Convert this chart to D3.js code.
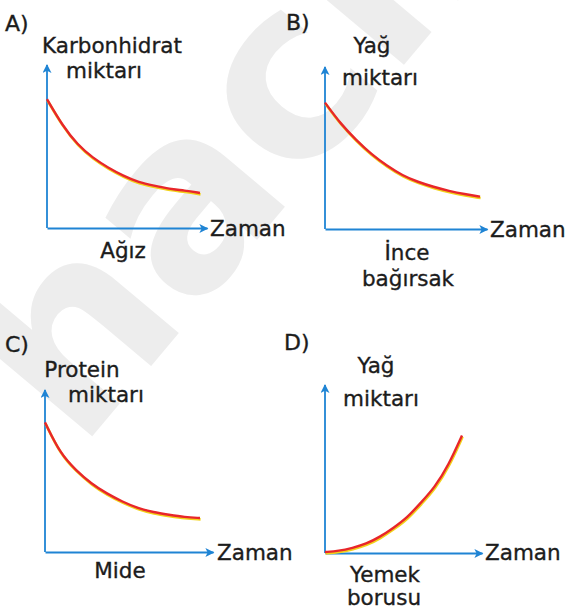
<!DOCTYPE html>
<html>
<head>
<meta charset="utf-8">
<script src="https://cdn.jsdelivr.net/npm/d3@7"></script>
<style>
  body { margin: 0; background: #fff; }
  text.lbl { font-family: "DejaVu Sans", sans-serif; fill: #1c1c1c; stroke: #1c1c1c; stroke-width: 0.35px; }
</style>
</head>
<body>
<div class="content"></div>
<script>
// zaman (same steps for every graph)
var zaman = [0, 1, 2, 3, 4, 5, 6, 7, 8, 9, 10];

// amount in % of the y arrow height
var karbonhidratAgiz = [79, 63, 51, 43, 37, 32, 28, 26, 24, 23, 21.5];
var yagInceBagirsak = [78, 65, 55, 46, 39, 33, 29, 26, 23.5, 21.5, 20];
var proteinMide = [80, 60.5, 50.5, 42, 36, 31, 27, 24.5, 23, 21.5, 21];
var yagYemekBorusu = [0.6, 1.2, 3, 5.4, 9.5, 15, 21, 30, 39, 52, 70];

var harfler = ["A)", "B)", "C)", "D)"];
var yEtiketleri = [["Karbonhidrat", "miktarı"], ["Yağ", "miktarı"], ["Protein", "miktarı"], ["Yağ", "miktarı"]];
var organlar = [["Ağız"], ["İnce", "bağırsak"], ["Mide"], ["Yemek", "borusu"]];
var xEtiketi = "Zaman";

var seriler = [karbonhidratAgiz, yagInceBagirsak, proteinMide, yagYemekBorusu];

// where each small graph sits
var panels = [
  { ox: 47, oy: 228, top: 65, right: 207, xMax: 10.46,
    harf: [5, 31], yLab: [[112, 53], [104, 78]], org: [[123, 258]], zaman: [210, 236] },
  { ox: 325, oy: 229, top: 67, right: 487, xMax: 10.45,
    harf: [286, 30], yLab: [[372, 53], [380, 85]], org: [[407, 260], [408, 286]], zaman: [490, 237] },
  { ox: 45, oy: 552, top: 390, right: 213, xMax: 10.84,
    harf: [5, 352], yLab: [[82, 377], [106, 402]], org: [[120, 578]], zaman: [217, 560] },
  { ox: 325, oy: 553, top: 385, right: 482, xMax: 11.46,
    harf: [284, 350], yLab: [[376, 373], [381, 406]], org: [[385, 582], [384, 605]], zaman: [485, 560] }
];

var mavi = "#1f84d4";

var svg = d3.select(".content")
  .append("svg")
  .attr("width", 570)
  .attr("height", 610);

// faint watermark behind everything
svg.append("text")
  .text("hacın")
  .attr("transform", "translate(79,452) rotate(-50)")
  .style("font-family", "'DejaVu Sans', sans-serif")
  .style("font-weight", "bold")
  .style("font-size", "245px")
  .style("fill", "#ededed");

var defs = svg.append("defs");
defs.append("marker")
  .attr("id", "ok")
  .attr("viewBox", "0 0 10 10")
  .attr("refX", 9)
  .attr("refY", 5)
  .attr("markerUnits", "userSpaceOnUse")
  .attr("markerWidth", 11)
  .attr("markerHeight", 9)
  .attr("orient", "auto")
  .append("path")
  .attr("d", "M0,0L10,5L0,10L2.5,5Z")
  .attr("fill", mavi);

panels.forEach(function(p, i) {
  var g = svg.append("g");

  var x = d3.scaleLinear().domain([0, p.xMax]).range([p.ox, p.right]);
  var y = d3.scaleLinear().domain([0, 100]).range([p.oy, p.top]);

  // axes: only the domain lines, no ticks
  var xAxis = g.append("g")
    .attr("transform", "translate(0," + p.oy + ")")
    .call(d3.axisBottom(x).tickValues([]).tickSizeOuter(0));
  var yAxis = g.append("g")
    .attr("transform", "translate(" + p.ox + ",0)")
    .call(d3.axisLeft(y).tickValues([]).tickSizeOuter(0));

  [xAxis, yAxis].forEach(function(a) {
    a.select(".domain")
      .attr("stroke", mavi)
      .attr("stroke-width", 1.8)
      .attr("marker-end", "url(#ok)");
  });
  // axisLeft path runs top->bottom, flip so the arrow is at the top
  yAxis.select(".domain").attr("d", "M0," + p.oy + "V" + p.top);

  var line = d3.line()
    .x(function(d, j) { return x(zaman[j]); })
    .y(function(d) { return y(d); })
    .curve(d3.curveBasis);

  // yellow rim under the red line
  g.append("path")
    .datum(seriler[i])
    .attr("d", line)
    .attr("fill", "none")
    .attr("stroke", "#f2d21a")
    .attr("stroke-width", 2.6)
    .attr("transform", "translate(0.6,1.4)");
  g.append("path")
    .datum(seriler[i])
    .attr("d", line)
    .attr("fill", "none")
    .attr("stroke", "#e8262a")
    .attr("stroke-width", 2.4);

  g.append("text")
    .attr("class", "lbl")
    .text(harfler[i])
    .attr("x", p.harf[0])
    .attr("y", p.harf[1])
    .style("font-size", "22px");

  yEtiketleri[i].forEach(function(t, k) {
    g.append("text")
      .attr("class", "lbl")
      .text(t)
      .attr("x", p.yLab[k][0])
      .attr("y", p.yLab[k][1])
      .style("text-anchor", "middle")
      .style("font-size", "21.5px");
  });

  organlar[i].forEach(function(t, k) {
    g.append("text")
      .attr("class", "lbl")
      .text(t)
      .attr("x", p.org[k][0])
      .attr("y", p.org[k][1])
      .style("text-anchor", "middle")
      .style("font-size", "21.5px");
  });

  g.append("text")
    .attr("class", "lbl")
    .text(xEtiketi)
    .attr("x", p.zaman[0])
    .attr("y", p.zaman[1])
    .style("font-size", "21.5px");
});
</script>
</body>
</html>
